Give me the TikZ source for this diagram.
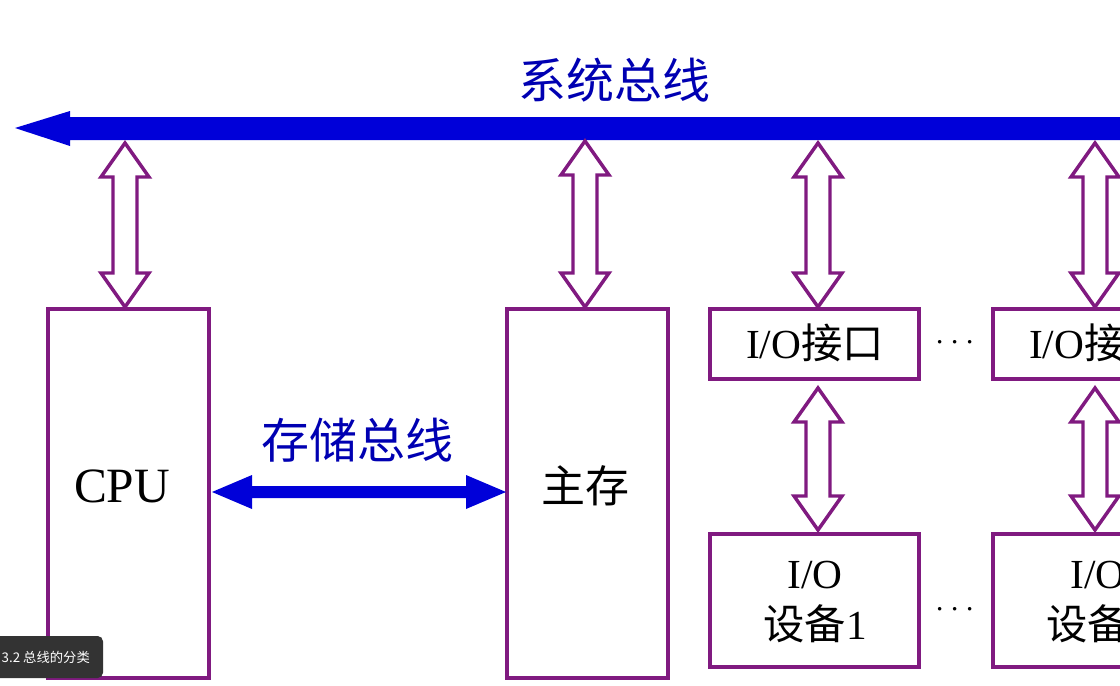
\documentclass[tikz,border=0pt]{standalone}
\usepackage{fontspec}
\setmainfont{Liberation Serif}
\newfontfamily\cjk{Noto Sans CJK SC}
\definecolor{pur}{RGB}{128,26,128}
\begin{document}
\begin{tikzpicture}[x=0.75pt,y=-0.75pt,
  box/.style={draw=pur,line width=3pt},
  hol/.style={draw=pur,line width=2.6pt,fill=white,line join=miter},
  bus/.style={fill=blue!85!black},
  lbl/.style={font=\fontsize{31}{38}\selectfont},
  blbl/.style={text=blue!70!black,font=\cjk\fontsize{36}{40}\selectfont}]
\useasboundingbox (0,0) rectangle (1120,685);
\clip (0,0) rectangle (1120,685);
\newcommand\hollowarrow[3]{% x, ytop, ybottom
  \draw[hol] (#1,#2) -- ++(24,34) -- ++(-12,0) -- (#1+12,#3-34) -- ++(12,0) -- (#1,#3)
    -- ++(-24,-34) -- ++(12,0) -- (#1-12,#2+34) -- ++(-12,0) -- cycle;}
% system bus
\coordinate (busL) at (15,128);
\fill[bus] (busL) -- (70,111) -- (70,117) -- (1125,117) -- (1125,140) -- (70,140) -- (70,146) -- cycle;
\node[blbl] (sys) at (614,80) {系统总线};
% boxes
\draw[box] (48,309) rectangle (209,678);
\node[font=\fontsize{37}{40}\selectfont] (cpu) at (122,486) {CPU};
\draw[box] (507,309) rectangle (668,678);
\node[font=\cjk\fontsize{33}{36}\selectfont] (mem) at (585,486) {主存};
\draw[box] (710,309) rectangle (919,379);
\node[lbl] (io1) at (815,343) {I/O{\cjk 接口}};
\draw[box] (993,309) rectangle (1200,379);
\node[lbl] (io2) at (1098,343) {I/O{\cjk 接口}};
\draw[box] (710,534) rectangle (919,667);
\node[lbl,align=center] (d1) at (815,602) {I/O\\{\cjk 设备}1};
\draw[box] (993,534) rectangle (1200,667);
\node[lbl,align=center] (d2) at (1098,602) {I/O\\{\cjk 设备}2};
\node[lbl] at (955,343) {$\cdots$};
\node[lbl] at (955,610) {$\cdots$};
% hollow arrows
\hollowarrow{125}{143}{307}
\hollowarrow{585}{141}{307}
\hollowarrow{818}{143}{307}
\hollowarrow{1095}{143}{307}
\hollowarrow{818}{388}{530}
\hollowarrow{1095}{388}{530}
% memory bus
\fill[bus] (212,492) -- (252,475) -- (252,486) -- (466,486) -- (466,475) -- (506,492)
  -- (466,509) -- (466,498) -- (252,498) -- (252,509) -- cycle;
\node[blbl] (mb) at (357,440) {存储总线};
% caption overlay
\fill[black!80,rounded corners=4pt] (-10,636) rectangle (103,678);
\node[text=white,font=\cjk\fontsize{10}{12}\selectfont,anchor=west] at (-3,657) {3.2 总线的分类};
\end{tikzpicture}
\end{document}
